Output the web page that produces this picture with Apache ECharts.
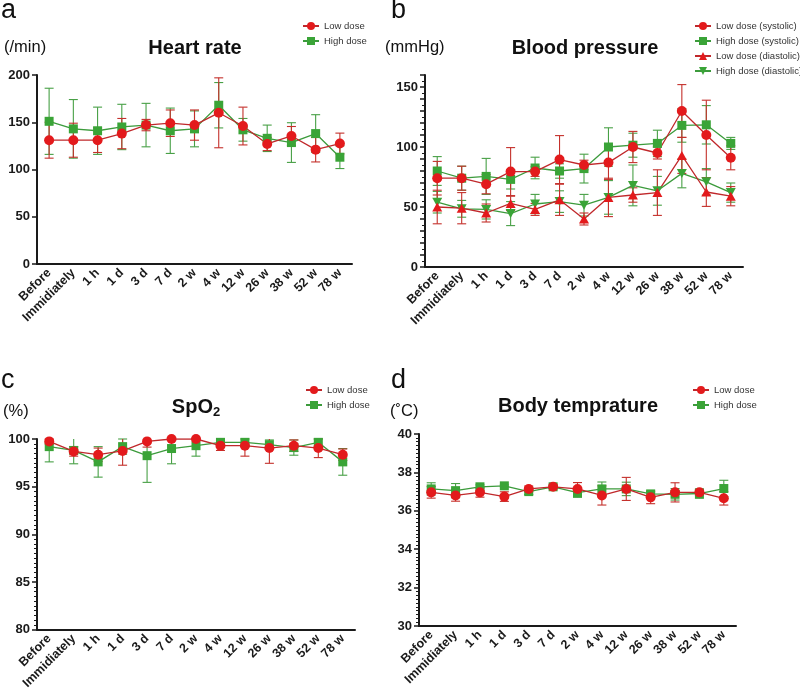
<!DOCTYPE html>
<html>
<head>
<meta charset="utf-8">
<script src="https://cdn.jsdelivr.net/npm/echarts@6/dist/echarts.min.js"></script>
<style>
html,body{margin:0;padding:0;background:#fff;}
#c{width:800px;height:692px;}
</style>
</head>
<body>
<div id="c"></div>
<script>
// ---------- data ----------
const categories = ['Before','Immidiately','1 h','1 d','3 d','7 d','2 w','4 w','12 w','26 w','38 w','52 w','78 w'];

// Heart rate (/min)
const hrLowMean  = [131, 131, 131, 138, 147, 149, 147, 160, 146, 127, 135.5, 121, 127.5];
const hrLowSd    = [19, 18, 13, 16, 6, 14, 16, 37, 20, 7, 10, 13, 11];
const hrHighMean = [151, 143, 141, 145, 147, 141, 143, 168, 142, 133, 128.5, 138, 113];
const hrHighSd   = [35, 31, 25, 24, 23, 24, 19, 24, 12, 14, 21, 20, 12];

// Blood pressure (mmHg)
const bpLowSysMean  = [74, 74, 69, 79.5, 79.5, 89.5, 85, 87, 100, 95, 130, 110, 91];
const bpLowSysSd    = [14, 10, 8, 20, 4, 20, 4, 14, 13, 5, 22, 29, 10];
const bpHighSysMean = [80, 74, 75.5, 73, 82.5, 80, 82, 100, 101.5, 103, 118, 118.5, 103];
const bpHighSysSd   = [12, 10, 15, 8, 9, 6, 12, 16, 10, 11, 14, 16, 5];
const bpLowDiaMean  = [50, 49, 45, 53, 48, 56, 40, 58, 60, 62, 93, 62.5, 59];
const bpLowDiaSd    = [14, 13, 7.5, 6, 5, 13, 5, 16, 6, 19, 15, 12, 8];
const bpHighDiaMean = [54, 48.5, 48, 44.5, 52.5, 54.5, 51.5, 58, 68, 63.5, 78, 71, 62];
const bpHighDiaSd   = [9, 7, 8, 10, 8, 9, 9, 14, 17, 12, 12, 11, 8];

// SpO2 (%)
const spLowMean  = [99.75, 98.7, 98.35, 98.75, 99.75, 100, 100, 99.3, 99.3, 99.05, 99.3, 99.05, 98.35];
const spLowSd    = [0.3, 0.5, 0.7, 1.5, 0.6, 0, 0, 0.5, 1.1, 1.6, 0.6, 1.0, 0.6];
const spHighMean = [99.2, 98.8, 97.6, 99.2, 98.25, 99.0, 99.3, 99.65, 99.65, 99.4, 99.1, 99.65, 97.6];
const spHighSd   = [1.6, 1.4, 1.6, 0.8, 2.8, 1.6, 1.1, 0.4, 0.4, 0.5, 0.8, 0.4, 1.4];

// Body temperature (°C)
const tLowMean  = [36.96, 36.8, 36.96, 36.74, 37.14, 37.25, 37.14, 36.8, 37.14, 36.7, 36.96, 36.96, 36.65];
const tLowSd    = [0.3, 0.3, 0.25, 0.25, 0.15, 0.1, 0.33, 0.5, 0.6, 0.33, 0.5, 0.15, 0.35];
const tHighMean = [37.14, 37.05, 37.25, 37.3, 37.0, 37.25, 36.95, 37.14, 37.14, 36.88, 36.86, 36.9, 37.16];
const tHighSd   = [0.32, 0.37, 0.1, 0.05, 0.15, 0.05, 0.25, 0.36, 0.35, 0.1, 0.3, 0.25, 0.43];

// ---------- style ----------
const FONT = 'Liberation Sans, Arial, Helvetica, sans-serif';
const INK = '#1a1a1a';
const RED = '#e31a1c', RED_LINE = '#c0282b', RED_ERR = '#c4302b';
const GRN = '#3aa437', GRN_LINE = '#3c9b3c', GRN_ERR = '#48a046';
const DOWN_TRI = 'path://M0,0 L10,0 L5,9 Z';

const grids = [
  {left: 37, top: 75, width: 315, height: 189},
  {left: 425, top: 75, width: 318, height: 192},
  {left: 37, top: 439, width: 318, height: 191},
  {left: 419, top: 434, width: 317, height: 192}
];

function mkX(g) {
  return {
    type: 'category', gridIndex: g, data: categories, boundaryGap: true,
    axisLine: {lineStyle: {color: INK, width: 2}},
    axisTick: {alignWithLabel: true, length: 5, lineStyle: {color: INK, width: 1.5}},
    axisLabel: {rotate: 45, interval: 0, fontSize: 12.5, fontWeight: 'bold', color: INK, fontFamily: FONT, margin: 7},
    splitLine: {show: false}
  };
}
function mkY(g, min, max, interval, minorSplit, fmt) {
  return {
    type: 'value', gridIndex: g, min: min, max: max, interval: interval,
    axisLine: {show: true, lineStyle: {color: INK, width: 2}},
    axisTick: {show: true, length: 5, lineStyle: {color: INK, width: 1.5}},
    minorTick: {show: minorSplit > 0, splitNumber: minorSplit || 5, length: 3, lineStyle: {color: INK, width: 1}},
    splitLine: {show: false},
    axisLabel: {fontSize: 13, fontWeight: 'bold', color: INK, fontFamily: FONT, margin: 7, formatter: fmt}
  };
}

function errRender(color) {
  return function (params, api) {
    const i = api.value(0);
    const lo = api.coord([i, api.value(1)]);
    const hi = api.coord([i, api.value(2)]);
    const cs = params.coordSys;
    const yLo = Math.min(lo[1], cs.y + cs.height);
    const yHi = Math.max(hi[1], cs.y);
    const cx = lo[0], w = 4.5;
    const st = {stroke: color, lineWidth: 1.1};
    const kids = [{type: 'line', shape: {x1: cx, y1: yHi, x2: cx, y2: yLo}, style: st}];
    if (hi[1] >= cs.y - 0.5) kids.push({type: 'line', shape: {x1: cx - w, y1: yHi, x2: cx + w, y2: yHi}, style: st});
    kids.push({type: 'line', shape: {x1: cx - w, y1: yLo, x2: cx + w, y2: yLo}, style: st});
    return {type: 'group', children: kids};
  };
}

const series = [];
function addSeries(g, name, mean, sd, symbol, size, color, lineColor, errColor) {
  series.push({
    type: 'custom', name: name + ' err', xAxisIndex: g, yAxisIndex: g, z: 2,
    renderItem: errRender(errColor), encode: {x: 0, y: [1, 2]}, silent: true,
    data: mean.map((m, i) => [i, m - sd[i], m + sd[i]])
  });
  series.push({
    type: 'line', name: name, xAxisIndex: g, yAxisIndex: g, z: 3,
    data: mean, symbol: symbol, symbolSize: size, showSymbol: true,
    itemStyle: {color: color}, lineStyle: {color: lineColor, width: 1.3},
    emphasis: {disabled: true}, animation: false
  });
}

addSeries(0, 'High dose', hrHighMean, hrHighSd, 'rect', 9, GRN, GRN_LINE, GRN_ERR);
addSeries(0, 'Low dose', hrLowMean, hrLowSd, 'circle', 10, RED, RED_LINE, RED_ERR);

addSeries(1, 'High dose (systolic)', bpHighSysMean, bpHighSysSd, 'rect', 9, GRN, GRN_LINE, GRN_ERR);
addSeries(1, 'High dose (diastolic)', bpHighDiaMean, bpHighDiaSd, DOWN_TRI, [10, 9], GRN, GRN_LINE, GRN_ERR);
addSeries(1, 'Low dose (systolic)', bpLowSysMean, bpLowSysSd, 'circle', 10, RED, RED_LINE, RED_ERR);
addSeries(1, 'Low dose (diastolic)', bpLowDiaMean, bpLowDiaSd, 'triangle', [10, 9], RED, RED_LINE, RED_ERR);

addSeries(2, 'High dose', spHighMean, spHighSd, 'rect', 9, GRN, GRN_LINE, GRN_ERR);
addSeries(2, 'Low dose', spLowMean, spLowSd, 'circle', 10, RED, RED_LINE, RED_ERR);

addSeries(3, 'High dose', tHighMean, tHighSd, 'rect', 9, GRN, GRN_LINE, GRN_ERR);
addSeries(3, 'Low dose', tLowMean, tLowSd, 'circle', 10, RED, RED_LINE, RED_ERR);

function mkLegend(left, top, names) {
  return {
    left: left, top: top, orient: 'vertical', data: names, selectedMode: false,
    itemWidth: 16, itemHeight: 10, itemGap: 5, padding: 0,
    textStyle: {fontSize: 9.5, color: '#333', fontFamily: FONT}
  };
}

function txt(text, left, top, size, bold, align) {
  return {
    text: text, left: left, top: top, padding: 0, textAlign: align || 'left',
    textStyle: {fontSize: size, fontWeight: bold ? 'bold' : 'normal', color: '#111', fontFamily: FONT}
  };
}

const titles = [
  txt('a', 1, -3, 27, false),
  txt('b', 391, -3, 27, false),
  txt('c', 1, 367, 27, false),
  txt('d', 391, 367, 27, false),
  txt('(/min)', 4, 39, 16.5, false),
  txt('(mmHg)', 385, 39, 16.5, false),
  txt('(%)', 3, 403, 16.5, false),
  txt('(˚C)', 390, 403, 16.5, false),
  txt('Heart rate', 195, 38, 20, true, 'center'),
  txt('Blood pressure', 585, 38, 20, true, 'center'),
  {
    text: '{m|SpO}{s|2}', left: 196, top: 396, padding: 0, textAlign: 'center',
    textStyle: {rich: {
      m: {fontSize: 20, fontWeight: 'bold', color: '#111', fontFamily: FONT},
      s: {fontSize: 13, fontWeight: 'bold', color: '#111', fontFamily: FONT, padding: [10, 0, 0, 0]}
    }}
  },
  txt('Body temprature', 578, 396, 20, true, 'center')
];

const option = {
  animation: false,
  backgroundColor: '#fff',
  title: titles,
  legend: [
    mkLegend(302, 21, ['Low dose', 'High dose']),
    mkLegend(694, 21, ['Low dose (systolic)', 'High dose (systolic)', 'Low dose (diastolic)', 'High dose (diastolic)']),
    mkLegend(305, 385, ['Low dose', 'High dose']),
    mkLegend(692, 385, ['Low dose', 'High dose'])
  ],
  grid: grids,
  xAxis: [mkX(0), mkX(1), mkX(2), mkX(3)],
  yAxis: [
    mkY(0, 0, 200, 50, 0),
    mkY(1, 0, 160, 10, 2, v => (v % 50 === 0 ? String(v) : '')),
    mkY(2, 80, 100, 5, 10),
    mkY(3, 30, 40, 2, 10)
  ],
  series: series
};

const chart = echarts.init(document.getElementById('c'), null, {renderer: 'canvas'});
chart.setOption(option);
</script>
</body>
</html>
